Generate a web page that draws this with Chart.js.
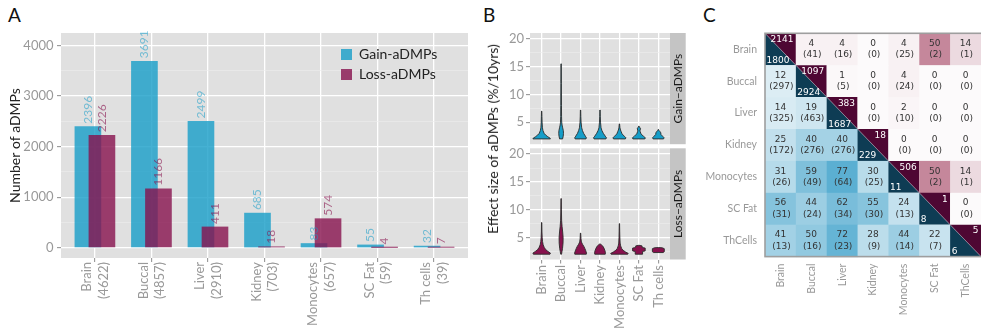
<!DOCTYPE html>
<html><head><meta charset="utf-8">
<script src="https://cdn.jsdelivr.net/npm/chart.js@4.4.1/dist/chart.umd.min.js"></script>
<style>
html,body{margin:0;padding:0;background:#fff;}
body{width:981px;height:336px;position:relative;overflow:hidden;font-family:Lato,sans-serif;}
canvas{position:absolute;}
.tag{position:absolute;font:19px/19px Lato,sans-serif;color:#111;}
#bTitle{position:absolute;left:493px;top:139px;transform:translate(-50%,-50%) rotate(-90deg);font:14px/16px Lato,sans-serif;color:#222;white-space:nowrap;}
</style></head><body>
<div class="tag" style="left:8px;top:5px">A</div>
<div class="tag" style="left:483px;top:5px">B</div>
<div class="tag" style="left:703px;top:5px">C</div>
<canvas id="cA" width="480" height="336" style="left:0;top:0"></canvas>
<canvas id="cB1" width="220" height="148" style="left:480px;top:0"></canvas>
<canvas id="cB2" width="220" height="190" style="left:480px;top:146px"></canvas>
<canvas id="cC" width="281" height="336" style="left:700px;top:0"></canvas>
<div id="bTitle">Effect size of aDMPs (%/10yrs)</div>
<script>
// ---------- data ----------
const categories = ['Brain','Buccal','Liver','Kidney','Monocytes','SC Fat','Th cells'];
const sampleSizes = [4622,4857,2910,703,657,59,39];
const gainCounts = [2396,3691,2499,685,83,55,32];
const lossCounts = [2226,1166,411,18,574,4,7];
const countTicks = [0,1000,2000,3000,4000];
const effectTicks = [5,10,15,20];

// violin outlines: [effect size, relative width]
const gainViolins = [
  [[2.0,1.0],[2.15,0.95],[2.4,0.7],[2.7,0.45],[3.0,0.28],[3.5,0.15],[4,0.09],[5,0.05],[6,0.035],[7,0.02]],
  [[2.0,0.17],[2.5,0.24],[3.0,0.27],[3.5,0.25],[4.0,0.18],[4.5,0.11],[5,0.07],[6,0.05],[8,0.04],[12,0.03],[15.5,0.02]],
  [[2.0,0.62],[2.2,0.67],[2.5,0.55],[3.0,0.35],[3.5,0.22],[4,0.13],[5,0.06],[6,0.035],[7.2,0.02]],
  [[2.0,0.68],[2.2,0.74],[2.5,0.6],[3.0,0.38],[3.5,0.22],[4,0.12],[5,0.06],[6,0.035],[7.2,0.02]],
  [[2.0,0.68],[2.2,0.74],[2.5,0.55],[2.9,0.3],[3.3,0.2],[3.6,0.12],[4,0.06],[4.7,0.02]],
  [[2.0,0.68],[2.2,0.74],[2.5,0.5],[2.9,0.25],[3.3,0.15],[3.6,0.12],[3.8,0.2],[4.0,0.12],[4.3,0.02]],
  [[2.0,0.6],[2.2,0.66],[2.5,0.48],[2.8,0.3],[3.1,0.28],[3.3,0.2],[3.5,0.08],[3.7,0.02]]
];
const lossViolins = [
  [[2.0,0.95],[2.2,1.0],[2.5,0.72],[2.8,0.48],[3.2,0.3],[3.7,0.17],[4.3,0.1],[5,0.06],[6,0.035],[7.7,0.02]],
  [[2.0,0.05],[2.5,0.1],[3.0,0.16],[4.0,0.22],[5.0,0.23],[6.0,0.18],[7.0,0.11],[8.0,0.06],[10,0.035],[12,0.02]],
  [[2.0,0.66],[2.2,0.68],[2.6,0.6],[3.0,0.5],[3.4,0.38],[3.8,0.22],[4.2,0.1],[4.8,0.05],[5.8,0.02]],
  [[2.0,0.6],[2.3,0.62],[2.7,0.55],[3.1,0.45],[3.5,0.3],[3.7,0.15],[3.85,0.02]],
  [[2.0,0.95],[2.15,1.0],[2.4,0.7],[2.7,0.42],[3.0,0.26],[3.5,0.14],[4,0.08],[5,0.05],[6,0.035],[7.5,0.02]],
  [[2.0,0.42],[2.5,0.42],[2.6,0.72],[3.1,0.72],[3.2,0.38],[3.5,0.36],[3.6,0.02]],
  [[2.3,0.55],[2.45,0.68],[3.0,0.68],[3.15,0.45],[3.2,0.02]]
];

const heatLabels = ['Brain','Buccal','Liver','Kidney','Monocytes','SC Fat','ThCells'];
const heatPct = [
  [null,4,4,0,4,50,14],
  [12,null,1,0,4,0,0],
  [14,19,null,0,2,0,0],
  [25,40,40,null,0,0,0],
  [31,59,77,30,null,50,14],
  [56,44,62,55,24,null,0],
  [41,50,72,28,44,22,null]
];
const heatCount = [
  [null,41,16,0,25,2,1],
  [297,null,5,0,24,0,0],
  [325,463,null,0,10,0,0],
  [172,276,276,null,0,0,0],
  [26,49,64,25,null,2,1],
  [31,24,34,30,13,null,0],
  [13,16,23,9,14,7,null]
];
const diagUpper = [2141,1097,383,18,506,1,5];
const diagLower = [1800,2924,1687,229,11,8,6];

// ---------- styles ----------
Chart.defaults.font.family = 'Lato, "DejaVu Sans", sans-serif';
Chart.defaults.color = '#999';
const PANEL_BG = '#e0e0e0';
const GAIN_RGB = [22,157,200], LOSS_RGB = [135,17,77];
const rgba = (c,a) => `rgba(${c[0]},${c[1]},${c[2]},${a})`;
const BAR_SHIFT = 0.124;

function withMinors(majors, lo, hi) {
  const half = (majors[1]-majors[0])/2, out = [];
  majors.forEach(t => { out.push({value:t-half, minor:true}); out.push({value:t}); });
  out.push({value:majors[majors.length-1]+half, minor:true});
  return out.filter(t => t.value >= lo && t.value <= hi);
}
const isMinor = c => c.tick && c.tick.minor;
const gridY = {
  color: c => isMinor(c) ? '#ececec' : '#ffffff',
  lineWidth: c => isMinor(c) ? 0.6 : 1.3,
  tickColor: c => isMinor(c) ? 'rgba(0,0,0,0)' : '#8c8c8c',
  tickWidth: 1, tickLength: 4, drawTicks: true, offset: false
};

const panelBg = { id:'panelBg', beforeDraw(chart, args, o) {
  const {ctx, chartArea:a} = chart; ctx.save(); ctx.fillStyle = o.color || PANEL_BG;
  ctx.fillRect(a.left, a.top, a.right-a.left, a.bottom-a.top); ctx.restore(); } };

const barValues = { id:'barValues', afterDatasetsDraw(chart) {
  const ctx = chart.ctx; ctx.save(); ctx.font = '12px Lato'; ctx.textAlign = 'left'; ctx.textBaseline = 'middle';
  chart.data.datasets.forEach((ds, di) => {
    ctx.fillStyle = ds.labelColor;
    chart.getDatasetMeta(di).data.forEach((bar, i) => {
      ctx.save(); ctx.translate(bar.x, bar.y - 3); ctx.rotate(-Math.PI/2);
      ctx.fillText(String(ds.data[i].y), 0, 0); ctx.restore();
    });
  }); ctx.restore(); } };

const boxLegend = { id:'boxLegend', afterDraw(chart, args, o) {
  const ctx = chart.ctx; ctx.save(); ctx.font = o.font; ctx.textBaseline = 'middle'; ctx.textAlign = 'left';
  chart.data.datasets.forEach((ds, i) => {
    const y = o.y + i*o.rowGap;
    ctx.fillStyle = ds.backgroundColor; ctx.fillRect(o.x, y - o.box/2, o.box, o.box);
    ctx.fillStyle = o.color; ctx.fillText(ds.label, o.x + o.box + o.gap, y);
  }); ctx.restore(); } };

// ---------- Panel A ----------
new Chart(document.getElementById('cA'), {
  type: 'bar',
  data: { datasets: [
    { label:'Gain-aDMPs', data: gainCounts.map((v,i)=>({x:i-BAR_SHIFT, y:v})), backgroundColor: rgba(GAIN_RGB,0.8),
      labelColor: rgba(GAIN_RGB,0.55), grouped:false, barThickness:26, borderWidth:0, order:2 },
    { label:'Loss-aDMPs', data: lossCounts.map((v,i)=>({x:i+BAR_SHIFT, y:v})), backgroundColor: rgba(LOSS_RGB,0.8),
      labelColor: rgba(LOSS_RGB,0.6), grouped:false, barThickness:26, borderWidth:0, order:1 }
  ]},
  options: {
    responsive:false, animation:false, devicePixelRatio:1, events:[],
    layout:{ padding:{ top:33, right:12, left:0, bottom:0 } },
    plugins:{ legend:{display:false}, tooltip:{enabled:false}, panelBg:{color:PANEL_BG},
      boxLegend:{ x:341, y:54.5, rowGap:20, box:11, gap:7, font:'14px Lato', color:'#222' } },
    scales:{
      x:{ type:'linear', min:-0.6, max:6.6, offset:false,
        afterBuildTicks: s => { s.ticks = categories.map((_,i)=>({value:i})); },
        afterFit: s => { s.height = 78; s.paddingLeft = 0; s.paddingRight = 0; },
        border:{display:false},
        grid:{ color:'#fff', lineWidth:1.3, tickColor:'#8c8c8c', tickWidth:1, tickLength:4, offset:false },
        ticks:{ autoSkip:false, minRotation:90, maxRotation:90, padding:0, labelOffset:-8, color:'#999',
          font:{size:13, lineHeight:1.28}, callback:(v,i)=>[categories[i], '('+sampleSizes[i]+')'] } },
      y:{ min:-204, max:4250,
        afterBuildTicks: s => { s.ticks = withMinors(countTicks, -204, 4250); },
        afterFit: s => { s.width = 61; s.paddingTop = 0; s.paddingBottom = 0; },
        border:{display:false}, grid:gridY,
        title:{ display:true, text:'Number of aDMPs', color:'#222', font:{size:14}, padding:{top:6.6,bottom:0} },
        ticks:{ autoSkip:false, padding:3.5, color:'#999', font:{size:13}, callback:(v,i,t)=> t[i].minor ? '' : v } }
    }
  },
  plugins:[panelBg, barValues, boxLegend]
});

// ---------- Panel B ----------
const violinPlugin = { id:'violins', afterDatasetsDraw(chart, args, o) {
  const {ctx, scales:{x:xs, y:ys}} = chart;
  const unit = xs.getPixelForValue(1) - xs.getPixelForValue(0);
  ctx.save(); ctx.fillStyle = o.fill; ctx.strokeStyle = '#2a2a2a'; ctx.lineWidth = 0.9; ctx.lineJoin = 'round';
  o.profiles.forEach((prof, i) => {
    const cx = xs.getPixelForValue(i);
    const pts = prof.map(([v,w]) => [ys.getPixelForValue(v), w*0.45*unit]);
    ctx.beginPath();
    pts.forEach(([y,h],k) => k ? ctx.lineTo(cx+h,y) : ctx.moveTo(cx+h,y));
    for (let k=pts.length-1; k>=0; k--) ctx.lineTo(cx-pts[k][1], pts[k][0]);
    ctx.closePath(); ctx.fill(); ctx.stroke();
  });
  ctx.restore(); } };

const stripPlugin = { id:'strip', afterDraw(chart, args, o) {
  const {ctx, chartArea:a} = chart; ctx.save();
  ctx.fillStyle = '#c4c4c4'; ctx.fillRect(a.right, a.top, 15.7, a.bottom-a.top);
  ctx.translate(a.right + 7.85, (a.top+a.bottom)/2); ctx.rotate(-Math.PI/2);
  ctx.fillStyle = '#1a1a1a'; ctx.font = '12px Lato'; ctx.textAlign = 'center'; ctx.textBaseline = 'middle';
  ctx.fillText(o.text, 0, 0); ctx.restore(); } };

function violinChart(id, profiles, rgb, stripText, showX, padTop, xHeight) {
  return new Chart(document.getElementById(id), {
    type:'scatter', data:{ datasets:[{data:[]}] },
    options:{ responsive:false, animation:false, devicePixelRatio:1, events:[],
      layout:{ padding:{ top:padTop, right:30, left:0, bottom:0 } },
      plugins:{ legend:{display:false}, tooltip:{enabled:false}, panelBg:{color:PANEL_BG},
        violins:{ profiles, fill: rgba(rgb,1) }, strip:{ text:stripText } },
      scales:{
        x:{ type:'linear', min:-0.6, max:6.6, offset:false,
          afterBuildTicks: s => { s.ticks = categories.map((_,i)=>({value:i})); },
          afterFit: s => { s.height = xHeight; s.paddingLeft = 0; s.paddingRight = 0; },
          border:{display:false},
          grid:{ color:'#fff', lineWidth:1.3, drawTicks:showX, tickLength:4, tickColor:'#8c8c8c', tickWidth:1, offset:false },
          ticks:{ display:showX, autoSkip:false, minRotation:90, maxRotation:90, padding:1.5, color:'#999',
            font:{size:13}, callback:(v,i)=>categories[i] } },
        y:{ min:1.05, max:21.05,
          afterBuildTicks: s => { s.ticks = withMinors(effectTicks, 1.05, 21.05); },
          afterFit: s => { s.width = 50; s.paddingTop = 0; s.paddingBottom = 0; },
          border:{display:false}, grid:gridY,
          ticks:{ autoSkip:false, padding:2, color:'#999', font:{size:13}, callback:(v,i,t)=> t[i].minor ? '' : v } }
      } },
    plugins:[panelBg, violinPlugin, stripPlugin]
  });
}
violinChart('cB1', gainViolins, GAIN_RGB, 'Gain\u2212aDMPs', false, 33, 3.8);
violinChart('cB2', lossViolins, LOSS_RGB, 'Loss\u2212aDMPs', true, 2.3, 76.5);

// ---------- Panel C ----------
const PINK0 = [252,250,251], PINK1 = [141,19,59];
const BLUE0 = [244,248,250], BLUE1 = [45,153,198];
const mix = (a,b,t) => `rgb(${a.map((v,k)=>Math.round(v+(b[k]-v)*t)).join(',')})`;

const heatPlugin = { id:'heat', afterDatasetsDraw(chart) {
  const {ctx, scales:{x:xs, y:ys}, chartArea:a} = chart;
  ctx.save();
  heatLabels.forEach((_, r) => heatLabels.forEach((__, c) => {
    const x0 = xs.getPixelForValue(c), x1 = xs.getPixelForValue(c+1);
    const y0 = ys.getPixelForValue(r), y1 = ys.getPixelForValue(r+1);
    if (r === c) {
      ctx.fillStyle = '#0e3c54';
      ctx.beginPath(); ctx.moveTo(x0,y0); ctx.lineTo(x0,y1); ctx.lineTo(x1,y1); ctx.closePath(); ctx.fill();
      ctx.fillStyle = '#4e0733';
      ctx.beginPath(); ctx.moveTo(x0,y0); ctx.lineTo(x1,y0); ctx.lineTo(x1,y1); ctx.closePath(); ctx.fill();
      ctx.strokeStyle = 'rgba(190,190,200,0.7)'; ctx.lineWidth = 0.6;
      ctx.beginPath(); ctx.moveTo(x0,y0); ctx.lineTo(x1,y1); ctx.stroke();
      ctx.fillStyle = '#fff'; ctx.font = '9px "DejaVu Sans"'; ctx.textBaseline = 'middle';
      ctx.textAlign = 'right'; ctx.fillText(String(diagUpper[r]), x1-2.5, y0+6.4);
      ctx.textAlign = 'left'; ctx.fillText(String(diagLower[r]), x0+1.5, y1-4.8);
    } else {
      const v = heatPct[r][c];
      ctx.fillStyle = c > r ? mix(PINK0, PINK1, v/100) : mix(BLUE0, BLUE1, v/100);
      ctx.fillRect(x0, y0, x1-x0+0.5, y1-y0+0.5);
      const cx = (x0+x1)/2, cy = (y0+y1)/2;
      ctx.fillStyle = '#333'; ctx.font = '9px "DejaVu Sans"'; ctx.textAlign = 'center'; ctx.textBaseline = 'middle';
      ctx.fillText(String(v), cx, cy-5.6);
      ctx.fillText('(' + heatCount[r][c] + ')', cx+1, cy+5.6);
    }
  }));
  ctx.strokeStyle = '#9e9e9e'; ctx.lineWidth = 1.6;
  ctx.strokeRect(a.left, a.top, a.right-a.left+2, a.bottom-a.top);
  ctx.restore(); } };

const heatAxis = (extra) => Object.assign({
  type:'linear', min:0, max:7, offset:false,
  afterBuildTicks: s => { s.ticks = heatLabels.map((_,i)=>({value:i+0.5})); },
  grid:{ display:false, drawTicks:false }, border:{display:false}
}, extra);

new Chart(document.getElementById('cC'), {
  type:'scatter', data:{ datasets:[{data:[]}] },
  options:{ responsive:false, animation:false, devicePixelRatio:1, events:[],
    layout:{ padding:{ top:33.3, right:0, left:0, bottom:0 } },
    plugins:{ legend:{display:false}, tooltip:{enabled:false} },
    scales:{
      x: heatAxis({ afterFit: s => { s.height = 79.4; s.paddingLeft = 0; s.paddingRight = 0; },
        ticks:{ autoSkip:false, minRotation:90, maxRotation:90, padding:7, color:'#999', font:{size:10.5},
          callback:(v,i)=>heatLabels[i] } }),
      y: heatAxis({ reverse:true, afterFit: s => { s.width = 65; s.paddingTop = 0; s.paddingBottom = 0; },
        ticks:{ autoSkip:false, padding:8, color:'#999', font:{size:10.5}, callback:(v,i)=>heatLabels[i] } })
    } },
  plugins:[heatPlugin]
});
</script>
</body></html>
